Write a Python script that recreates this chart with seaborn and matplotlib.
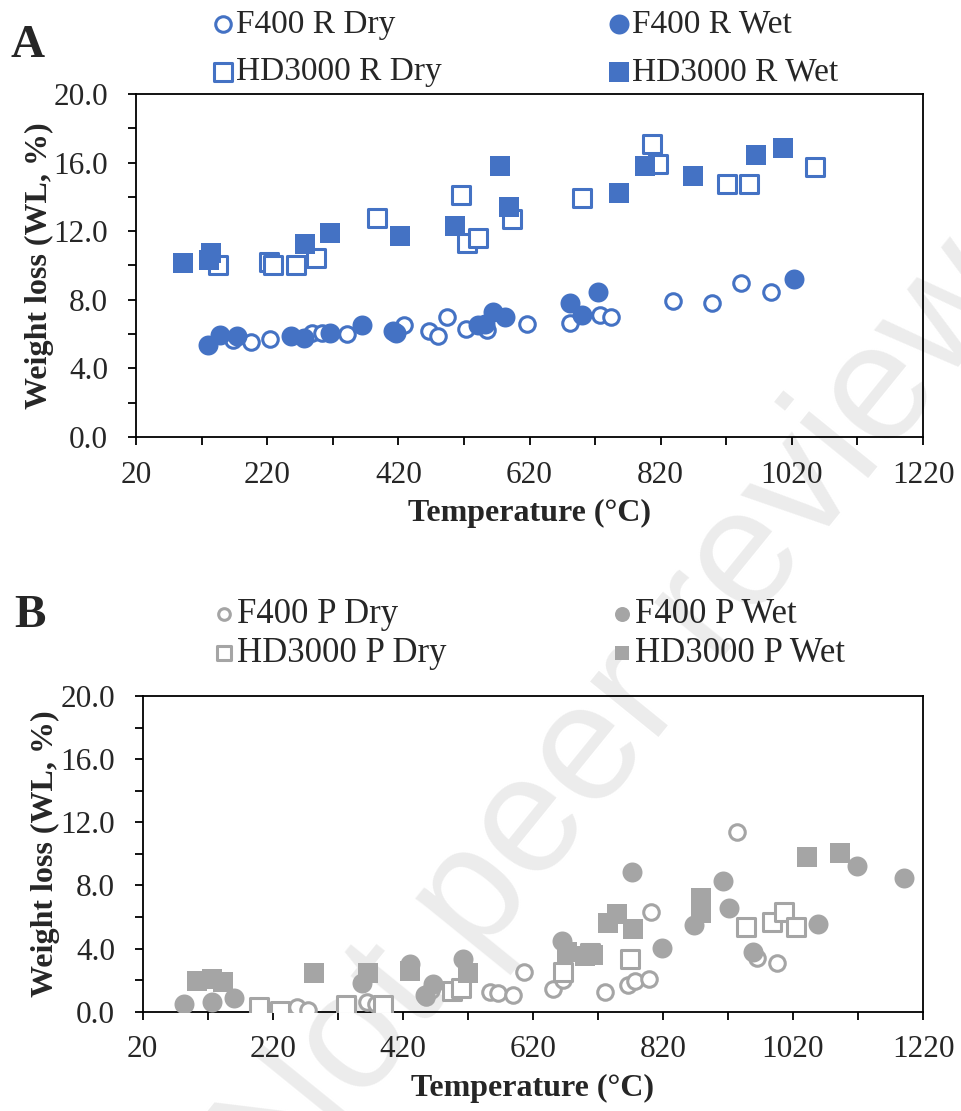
import matplotlib
matplotlib.use("Agg")
import matplotlib.pyplot as plt
import seaborn as sns
import numpy as np

BLUE = '#4472C4'
GREY = '#A5A5A5'

# ---- Panel A (R samples) ----
a_f400_dry_t = [168, 195, 224, 288, 303, 341, 428, 467, 481, 494, 523, 555, 616, 682, 727, 745, 839, 898, 943, 988]
a_f400_dry_wl = [5.67, 5.51, 5.73, 6.09, 6.06, 6.02, 6.5, 6.15, 5.86, 7.02, 6.29, 6.25, 6.6, 6.67, 7.12, 6.99, 7.9, 7.8, 9.0, 8.48]

a_f400_wet_t = [130, 148, 174, 256, 276, 316, 364, 412, 417, 542, 552, 565, 583, 682, 700, 725, 1023]
a_f400_wet_wl = [5.38, 5.96, 5.86, 5.9, 5.76, 6.06, 6.5, 6.15, 6.06, 6.54, 6.6, 7.26, 7.02, 7.84, 7.12, 8.48, 9.2]

a_hd_dry_t = [145, 223, 229, 264, 294, 388, 516, 525, 541, 594, 700, 806, 816, 921, 955, 1055]
a_hd_dry_wl = [10.0, 10.19, 10.03, 10.0, 10.42, 12.75, 14.11, 11.33, 11.6, 12.71, 13.92, 17.06, 15.92, 14.75, 14.75, 15.72]

a_hd_wet_t = [92, 132, 134, 278, 316, 422, 506, 575, 588, 756, 796, 869, 966, 1007]
a_hd_wet_wl = [10.13, 10.3, 10.7, 11.26, 11.92, 11.72, 12.32, 15.82, 13.43, 14.25, 15.82, 15.24, 16.44, 16.83]

# ---- Panel B (P samples) ----
b_f400_dry_t = [257, 274, 365, 378, 455, 464, 554, 567, 590, 606, 651, 667, 731, 767, 777, 799, 801, 934, 965, 995]
b_f400_dry_wl = [0.28, 0.1, 0.63, 0.5, 0.9, 1.37, 1.23, 1.17, 1.06, 2.5, 1.42, 2.0, 1.27, 1.69, 1.94, 2.07, 6.3, 11.36, 3.38, 3.07]

b_f400_wet_t = [84, 126, 160, 357, 431, 454, 466, 513, 665, 772, 818, 868, 912, 922, 958, 1059, 1119, 1190]
b_f400_wet_wl = [0.47, 0.63, 0.85, 1.84, 3.0, 1.06, 1.75, 3.32, 4.48, 8.87, 4.01, 5.49, 8.3, 6.59, 3.8, 5.53, 9.23, 8.45]

b_hd_dry_t = [199, 231, 333, 390, 495, 510, 667, 708, 770, 947, 987, 1006, 1024]
b_hd_dry_wl = [0.32, 0.05, 0.42, 0.42, 1.3, 1.5, 2.53, 3.7, 3.32, 5.38, 5.66, 6.33, 5.38]

b_hd_wet_t = [103, 126, 144, 283, 367, 431, 521, 672, 700, 712, 736, 750, 774, 878, 879, 1042, 1092]
b_hd_wet_wl = [1.96, 2.1, 1.9, 2.43, 2.43, 2.55, 2.43, 3.8, 3.5, 3.6, 5.64, 6.19, 5.22, 6.27, 7.18, 9.78, 10.07]

labels_a = ['F400 R Dry', 'F400 R Wet', 'HD3000 R Dry', 'HD3000 R Wet']
labels_b = ['F400 P Dry', 'F400 P Wet', 'HD3000 P Dry', 'HD3000 P Wet']

sns.set_style('ticks')
plt.rcParams['font.family'] = ['Liberation Serif', 'DejaVu Serif']

TICK_FS = 22.5
LABEL_FS = 23


def draw_series(ax, t, wl, marker, color, filled, label):
    if filled:
        sns.scatterplot(x=t, y=wl, ax=ax, marker=marker, s=207, color=color,
                        edgecolor=color, linewidth=0, label=label, zorder=3)
    else:
        size = 125 if marker == 'o' else 169
        sns.scatterplot(x=t, y=wl, ax=ax, marker=marker, s=size, color=color,
                        facecolor='white', edgecolor=color, linewidth=2.2,
                        label=label, zorder=3)


def style_axes(ax):
    ax.set_xlim(20, 1220)
    ax.set_ylim(0, 20)
    ax.set_xticks(np.arange(20, 1221, 200))
    ax.set_xticks(np.arange(120, 1221, 200), minor=True)
    ax.set_yticks(np.arange(0, 20.1, 4))
    ax.set_yticks(np.arange(2, 20, 4), minor=True)
    ax.set_yticklabels(['%.1f' % v for v in np.arange(0, 20.1, 4)])
    ax.tick_params(which='both', direction='out', length=6, width=1.3, color='black')
    ax.tick_params(axis='y', labelsize=TICK_FS, pad=14)
    ax.tick_params(axis='x', labelsize=TICK_FS, pad=11)
    for sp in ax.spines.values():
        sp.set_visible(True)
        sp.set_linewidth(1.3)
        sp.set_color('black')
    ax.set_facecolor('none')
    ax.set_xlabel('Temperature (°C)', fontsize=LABEL_FS, fontweight='bold', labelpad=7)
    ax.set_ylabel('Weight loss (WL, %)', fontsize=LABEL_FS, fontweight='bold', labelpad=0)


fig = plt.figure(figsize=(9.61, 11.11), dpi=100)

# watermark behind everything
fig.text(0.705, 0.418, 'Not peer reviewed', fontsize=120, color='#ececec',
         rotation=51, ha='center', va='center', family='Liberation Sans',
         zorder=-1)

ax_a = fig.add_axes([0.1415, 0.6067, 0.819, 0.3087])
ax_b = fig.add_axes([0.1485, 0.0894, 0.812, 0.2841])

draw_series(ax_a, a_f400_dry_t, a_f400_dry_wl, 'o', BLUE, False, labels_a[0])
draw_series(ax_a, a_f400_wet_t, a_f400_wet_wl, 'o', BLUE, True, labels_a[1])
draw_series(ax_a, a_hd_dry_t, a_hd_dry_wl, 's', BLUE, False, labels_a[2])
draw_series(ax_a, a_hd_wet_t, a_hd_wet_wl, 's', BLUE, True, labels_a[3])

draw_series(ax_b, b_f400_dry_t, b_f400_dry_wl, 'o', GREY, False, labels_b[0])
draw_series(ax_b, b_f400_wet_t, b_f400_wet_wl, 'o', GREY, True, labels_b[1])
draw_series(ax_b, b_hd_dry_t, b_hd_dry_wl, 's', GREY, False, labels_b[2])
draw_series(ax_b, b_hd_wet_t, b_hd_wet_wl, 's', GREY, True, labels_b[3])

for ax in (ax_a, ax_b):
    style_axes(ax)

# legends above each panel, two columns (reorder so rows read like the original)
h, l = ax_a.get_legend_handles_labels()
order = [0, 2, 1, 3]
ax_a.legend([h[i] for i in order], [l[i] for i in order], loc='upper left',
            bbox_to_anchor=(213 / 961, 1 - 9 / 1111), bbox_transform=fig.transFigure,
            ncol=2, frameon=False, fontsize=24, handlelength=0.6, handletextpad=0.1,
            columnspacing=5.0, borderpad=0, borderaxespad=0, labelspacing=0.52)

h, l = ax_b.get_legend_handles_labels()
ax_b.legend([h[i] for i in order], [l[i] for i in order], loc='upper left',
            bbox_to_anchor=(214 / 961, 1 - 598 / 1111), bbox_transform=fig.transFigure,
            ncol=2, frameon=False, fontsize=25, handlelength=0.55, handletextpad=0.1,
            columnspacing=4.8, borderpad=0, borderaxespad=0, labelspacing=0.18,
            markerscale=0.75)

fig.text(28 / 961, 1 - 46 / 1111, 'A', fontsize=34, fontweight='bold', ha='center', va='center')
fig.text(30 / 961, 1 - 616 / 1111, 'B', fontsize=34, fontweight='bold', ha='center', va='center')

fig.savefig('out.png', dpi=100)
